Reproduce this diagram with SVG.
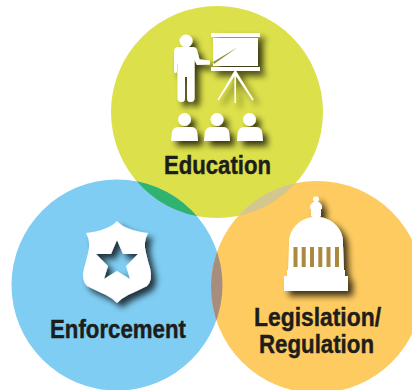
<svg xmlns="http://www.w3.org/2000/svg" width="412" height="390" viewBox="0 0 412 390">
<style>
.lbl{font-family:"Liberation Sans",Arial,sans-serif;font-weight:700;font-size:26px;fill:#1d1d1b;stroke:#1d1d1b;stroke-width:.45px}
.ic{fill:#fff}
.sh{filter:url(#ds)}
</style>
<defs>
<filter id="ds" x="-30%" y="-30%" width="170%" height="170%">
<feGaussianBlur in="SourceAlpha" stdDeviation="3.2"/>
<feOffset dx="5" dy="5"/>
<feComponentTransfer result="s"><feFuncA type="linear" slope="0.75"/></feComponentTransfer>
<feMerge><feMergeNode in="s"/><feMergeNode in="SourceGraphic"/></feMerge>
</filter>
<clipPath id="cE"><circle cx="217" cy="112" r="106"/></clipPath>
<clipPath id="cB"><circle cx="117" cy="285" r="105.5"/></clipPath>
</defs>
<rect width="412" height="390" fill="#fff"/>
<g id="circle-education"><circle cx="217" cy="112" r="106" fill="#dce04a"/></g>
<g id="circle-enforcement"><circle cx="117" cy="285" r="105.5" fill="#7fcdf2"/></g>
<g id="circle-legislation"><circle cx="317" cy="287" r="106" fill="#fdcb60"/></g>
<g id="overlaps">
<circle cx="117" cy="285" r="105.5" fill="#2fb36e" clip-path="url(#cE)"/>
<circle cx="317" cy="287" r="106" fill="#d3c78f" clip-path="url(#cE)"/>
<circle cx="317" cy="287" r="106" fill="#a68d7e" clip-path="url(#cB)"/>
</g>
<g id="education">
<g class="ic sh">
<circle cx="186" cy="41" r="6.500"/>
<path d="M178 47H192Q196 47 197 50L199.500 59.500L210 60.500V64.500L197 65L194.500 60V98Q194.500 102 190.500 102Q187 102 187 98V77H185V98Q185 102 181.500 102Q177.500 102 177.500 98V64H177V72Q175 74 174 72V52Q174 47 178 47Z"/>
<path d="M211 33H260V37H211ZM213 38H258V66H213ZM211 67H260V71H211Z"/>
<path d="M234.500 71H236L253.500 99.500L252.500 100.500L236 76V103H234.500V76L218.500 100.500L217.500 99.500Z"/>
<circle cx="184.500" cy="119.500" r="6.500"/><circle cx="217" cy="119.500" r="6.500"/><circle cx="249.500" cy="119.500" r="6.500"/>
<path d="M171 141L172 132Q173 127 179 127H190Q196 127 197 132L198 141Z"/>
<path d="M204 141L205 132Q206 127 212 127H222Q228 127 229 132L230 141Z"/>
<path d="M237 141L238 132Q239 127 245 127H255Q261 127 262 132L263 141Z"/>
</g>
<path d="M213 62L238 47L214 64Z" fill="#8f9040"/>
<text class="lbl" x="164" y="174" textLength="107" lengthAdjust="spacingAndGlyphs">Education</text>
</g>
<g id="enforcement">
<path class="ic sh" fill-rule="evenodd" d="M117 221Q125 230 148 233Q143 242 146 253Q148 262 150 268Q153 280 147 286Q137 291 128 295Q122 298 117 303Q112 298 106 295Q97 291 87 286Q81 280 84 268Q86 262 88 253Q91 242 86 233Q109 230 117 221ZM117 240L123 254H138L126 266L130 279L117 271L104 279L108 266L96 254H111Z"/>
<text class="lbl" x="50" y="338" textLength="136" lengthAdjust="spacingAndGlyphs">Enforcement</text>
</g>
<g id="legislation">
<path class="ic sh" d="M316 196.500A2.500 2.500 0 0 1 317 201.500Q320 202 322 206V209H321V216L319.500 217A27 25 0 0 1 343 242V246L344 270H345V276H348V291H284V276H287V270H288L289 246V242A27 25 0 0 1 312.500 217L311 216V209H310V206Q312 202 315 201.500A2.500 2.500 0 0 1 316 196.500Z"/>
<g fill="#a98a3f">
<rect x="293.500" y="247" width="4" height="20"/><rect x="301.700" y="247" width="4" height="20"/><rect x="310" y="247" width="4" height="20"/><rect x="318.300" y="247" width="4" height="20"/><rect x="326.500" y="247" width="4" height="20"/><rect x="335" y="247" width="4" height="20"/>
</g>
<text class="lbl" x="254" y="326" textLength="127" lengthAdjust="spacingAndGlyphs">Legislation/</text>
<text class="lbl" x="259" y="353" textLength="115" lengthAdjust="spacingAndGlyphs">Regulation</text>
</g>
</svg>
